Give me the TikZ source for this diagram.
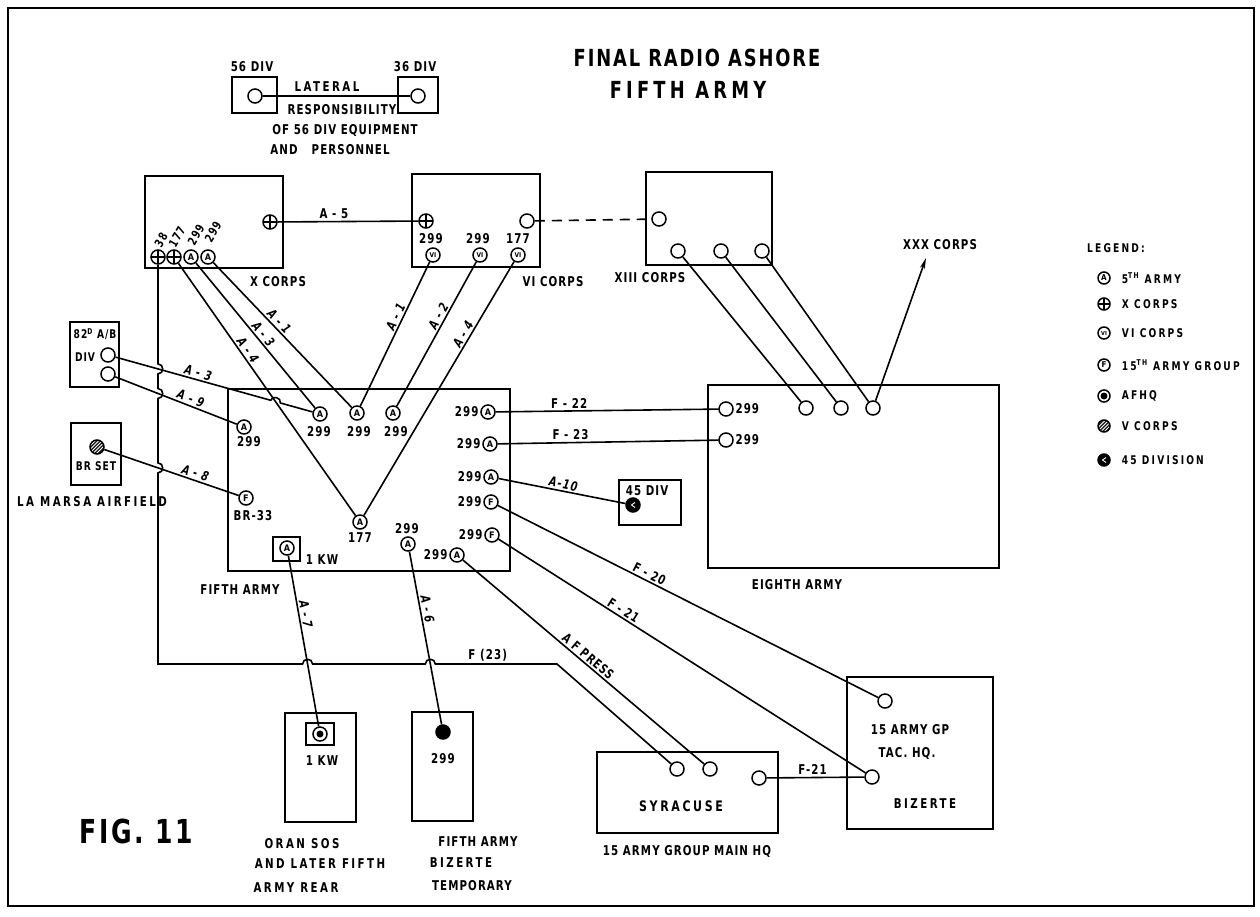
\documentclass[tikz,border=0pt]{standalone}
\usepackage{fontspec}
\setmainfont{DejaVu Sans}
\newfontfamily\labfam[FakeStretch=0.76,LetterSpace=8]{DejaVu Sans}
\newfontfamily\wlabfam[FakeStretch=0.76,LetterSpace=18]{DejaVu Sans}
\newfontfamily\symfam[FakeStretch=0.9]{DejaVu Sans}
\usetikzlibrary{calc,intersections,fit,arrows.meta}
\begin{document}
\begin{tikzpicture}[x=1pt,y=-1pt,line width=1.6pt,
  lab/.style={font=\labfam\bfseries\fontsize{13.5}{15}\selectfont, inner sep=1pt},
  slab/.style={font=\labfam\bfseries\fontsize{12}{13}\selectfont, inner sep=0.5pt},
  wlab/.style={font=\wlabfam\bfseries\fontsize{13.5}{15}\selectfont, inner sep=1pt},
  leg/.style={font=\wlabfam\bfseries\fontsize{12}{14}\selectfont, inner sep=1pt, anchor=west},
  llab/.style={font=\labfam\bfseries\itshape\fontsize{13}{15}\selectfont, inner sep=1.5pt, sloped, above},
  flab/.style={font=\labfam\bfseries\fontsize{13}{15}\selectfont, inner sep=1.5pt, sloped, above},
  ttl/.style={font=\labfam\bfseries\fontsize{23.5}{26}\selectfont},
  ttlw/.style={font=\wlabfam\bfseries\fontsize{23.5}{26}\selectfont},
  box/.style={draw, line width=1.7pt, inner sep=0pt},
  port/.style={circle, draw, line width=1.5pt, fill=white, minimum size=14pt, inner sep=0pt,
    font=\symfam\bfseries\fontsize{9}{9}\selectfont},
  viport/.style={port, font=\symfam\bfseries\fontsize{6.5}{6.5}\selectfont},
  xport/.style={port, path picture={\draw[line width=1.4pt]
    (path picture bounding box.north) -- (path picture bounding box.south)
    (path picture bounding box.west) -- (path picture bounding box.east);}},
  hport/.style={port, fill=black!90, path picture={\foreach \k in {-17,-13.5,...,0}
    {\draw[white, line width=0.9pt] ([xshift=\k pt, yshift=-9pt]path picture bounding box.center) -- ++(18pt,18pt);}}},
  dport/.style={port, fill=black, path picture={\draw[white, line width=0.9pt]
    ([xshift=2pt, yshift=2.5pt]path picture bounding box.center) -- ++(-3.5pt,-2.5pt) -- ++(3.5pt,-2.5pt);}},
  afport/.style={port, path picture={\fill[black] (path picture bounding box.center) circle[radius=3.5pt];}},
  bport/.style={port, fill=black},
  hop/.style={looseness=1.6}
]
\useasboundingbox (0,0) rectangle (1260,916);
\draw[line width=2.6pt] (8,8) rectangle (1254,906);

% title
\node[ttl] (t1) at (697,58) {FINAL RADIO ASHORE};
\node[ttlw] (t2) at (688,90) {FIFTH ARMY};
\node[font=\labfam\bfseries\fontsize{33}{36}\selectfont] (fig) at (136,831) {FIG. 11};

% top-left group
\node[lab] (l56) at (252,67) {56 DIV};
\node[box, fit={(232,77) (277,113)}] (b56) {};
\node[port] (c56) at (255,96) {};
\node[lab] (l36) at (415,67) {36 DIV};
\node[box, fit={(398,77) (438,113)}] (b36) {};
\node[port] (c36) at (418,96) {};
\draw (c56) -- (c36);
\node[wlab] (tlat) at (327,87) {LATERAL};
\node[lab] (tresp) at (342,110) {RESPONSIBILITY};
\node[lab] (tof) at (345,130) {OF 56 DIV EQUIPMENT};
\node[lab] (tand) at (330,150) {AND\hspace{14pt}PERSONNEL};

% X CORPS
\node[box, fit={(145,176) (283,268)}] (xbox) {};
\node[xport] (xa5) at (270,222) {};
\node[xport] (x38) at (158,257) {};
\node[xport] (x177) at (174,257) {};
\node[port] (xa1) at (191,257) {A};
\node[port] (xa2) at (208,257) {A};
\node[slab, rotate=60] (n38) at (161,240) {38};
\node[slab, rotate=60] (n177) at (177,237) {177};
\node[slab, rotate=60] (n299a) at (196,235) {299};
\node[slab, rotate=60] (n299b) at (213,232) {299};
\node[lab] (txc) at (278,282) {X CORPS};

% VI CORPS
\node[box, fit={(412,174) (540,267)}] (vbox) {};
\node[xport] (va5) at (426,221) {};
\node[port] (vo) at (527,221) {};
\node[viport] (vi1) at (433,255) {VI};
\node[viport] (vi2) at (480,255) {VI};
\node[viport] (vi3) at (518,255) {VI};
\node[lab] (nv1) at (431,239) {299};
\node[lab] (nv2) at (478,239) {299};
\node[lab] (nv3) at (518,239) {177};
\node[lab] (tvc) at (553,282) {VI CORPS};

% XIII CORPS
\node[box, fit={(646,172) (772,265)}] (xiiibox) {};
\node[port] (x13c) at (659,219) {};
\node[port] (x13a) at (678,251) {};
\node[port] (x13b) at (721,251) {};
\node[port] (x13d) at (762,251) {};
\node[lab] (txiii) at (650,278) {XIII CORPS};

% EIGHTH ARMY
\node[box, fit={(708,385) (999,568)}] (ebox) {};
\node[port, label={[lab]right:299}] (e1) at (726,409) {};
\node[port, label={[lab]right:299}] (e2) at (726,440) {};
\node[port] (e3) at (806,408) {};
\node[port] (e4) at (841,408) {};
\node[port] (e5) at (873,408) {};
\node[lab] (teighth) at (797,585) {EIGHTH ARMY};
\coordinate (xxx) at (926,258);
\node[lab] (txxx) at (940,245) {XXX CORPS};

% LEGEND
\node[leg, anchor=center] (tleg) at (1116,248) {LEGEND:};
\node[port, minimum size=12pt, font=\symfam\bfseries\fontsize{8}{8}\selectfont] (lg1) at (1104,278) {A};
\node[leg] (lt1) at (1120,278) {5\textsuperscript{TH} ARMY};
\node[xport, minimum size=12pt] (lg2) at (1104,304) {};
\node[leg] (lt2) at (1120,304) {X CORPS};
\node[viport, minimum size=12pt, font=\symfam\bfseries\fontsize{5.5}{5.5}\selectfont] (lg3) at (1104,333) {VI};
\node[leg] (lt3) at (1120,333) {VI CORPS};
\node[port, minimum size=12pt, font=\symfam\bfseries\fontsize{8}{8}\selectfont] (lg4) at (1104,365) {F};
\node[leg] (lt4) at (1120,365) {15\textsuperscript{TH} ARMY GROUP};
\node[afport, minimum size=12pt] (lg5) at (1104,396) {};
\node[leg] (lt5) at (1120,396) {AFHQ};
\node[hport, minimum size=12pt] (lg6) at (1104,426) {};
\node[leg] (lt6) at (1120,426) {V CORPS};
\node[dport, minimum size=12pt] (lg7) at (1104,460) {};
\node[leg] (lt7) at (1120,460) {45 DIVISION};

% 82 A/B DIV
\node[box, fit={(70,322) (119,387)}] (divbox) {};
\node[slab] (tdiv1) at (95,334) {82\textsuperscript{D} A/B};
\node[slab] (tdiv2) at (85,357) {DIV};
\node[port] (d1) at (108,355) {};
\node[port] (d2) at (108,374) {};

% BR SET
\node[box, fit={(71,423) (121,485)}] (brbox) {};
\node[hport] (hs) at (97,447) {};
\node[slab] (tbr) at (96,466) {BR SET};
\node[wlab] (tmarsa) at (92,502) {LA MARSA AIRFIELD};

% FIFTH ARMY
\node[box, fit={(228,389) (510,571)}] (fbox) {};
\node[port] (fa1) at (320,414) {A};
\node[lab] (nfa1) at (319,432) {299};
\node[port] (fa2) at (357,413) {A};
\node[lab] (nfa2) at (359,432) {299};
\node[port] (fa3) at (393,413) {A};
\node[lab] (nfa3) at (396,432) {299};
\node[port] (fa4) at (244,427) {A};
\node[lab] (nfa4) at (249,442) {299};
\node[port] (ff1) at (246,498) {F};
\node[lab] (nff1) at (253,516) {BR-33};
\node[box, fit={(273,537) (300,561)}] (kwbox) {};
\node[port] (fa5) at (287,548) {A};
\node[lab] (nkw) at (322,560) {1 KW};
\node[port] (fa6) at (360,522) {A};
\node[lab] (nfa6) at (360,538) {177};
\node[port] (fa7) at (408,544) {A};
\node[lab] (nfa7) at (407,529) {299};
\node[port, label={[lab]left:299}] (fa8) at (457,555) {A};
\node[port, label={[lab]left:299}] (r1) at (488,412) {A};
\node[port, label={[lab]left:299}] (r2) at (490,444) {A};
\node[port, label={[lab]left:299}] (r3) at (491,477) {A};
\node[port, label={[lab]left:299}] (r4) at (491,502) {F};
\node[port, label={[lab]left:299}] (r5) at (492,535) {F};
\node[lab] (tfifth) at (240,590) {FIFTH ARMY};

% 45 DIV
\node[box, fit={(619,480) (681,525)}] (b45) {};
\node[lab] (t45) at (647,491) {45 DIV};
\node[dport] (d45) at (633,505) {};

% ORAN
\node[box, fit={(285,713) (356,822)}] (oranbox) {};
\node[box, fit={(306,723) (334,745)}] (oraninner) {};
\node[afport] (afo) at (320,734) {};
\node[lab] (toran1) at (322,761) {1 KW};
\node[wlab] (toran2) at (302,844) {ORAN SOS};
\node[wlab] (toran3) at (320,864) {AND LATER FIFTH};
\node[wlab] (toran4) at (296,888) {ARMY REAR};

% FIFTH ARMY BIZERTE TEMPORARY
\node[box, fit={(412,712) (473,821)}] (fbzbox) {};
\node[bport] (fbz) at (443,732) {};
\node[lab] (tfbz1) at (443,759) {299};
\node[lab] (tfbz2) at (478,842) {FIFTH ARMY};
\node[wlab] (tfbz3) at (461,863) {BIZERTE};
\node[lab] (tfbz4) at (472,886) {TEMPORARY};

% SYRACUSE
\node[box, fit={(597,752) (778,833)}] (syrbox) {};
\node[port] (s1) at (677,769) {};
\node[port] (s2) at (710,769) {};
\node[port] (s3) at (759,778) {};
\node[wlab, font=\wlabfam\bfseries\fontsize{14.5}{16}\selectfont] (tsyr) at (681,806) {SYRACUSE};
\node[lab] (tsyr2) at (687,851) {15 ARMY GROUP MAIN HQ};

% BIZERTE
\node[box, fit={(847,677) (993,829)}] (bizbox) {};
\node[port] (b1) at (885,701) {};
\node[lab] (tbiz1) at (910,730) {15 ARMY GP};
\node[lab] (tbiz2) at (907,753) {TAC. HQ.};
\node[port] (b2) at (872,777) {};
\node[wlab] (tbiz3) at (925,804) {BIZERTE};

% connectors
\draw (xa5) -- node[lab, above=1pt, pos=0.4] {A - 5} (va5);
\draw[dash pattern=on 10pt off 7pt] (vo) -- (x13c);
\draw (xa2) -- node[llab, pos=0.44] {A - 1} (fa2);
\draw (xa1) -- node[llab, pos=0.52] {A - 3} (fa1);
\draw[name path=pa4x] (x177) -- node[llab, pos=0.36] {A - 4} (fa6);
\draw (vi1) -- node[llab, pos=0.4] {A - 1} (fa2);
\draw (vi2) -- node[llab, pos=0.4] {A - 2} (fa3);
\draw (vi3) -- node[llab, pos=0.3] {A - 4} (fa6);
\draw (x13a) -- (e3);
\draw (x13b) -- (e4);
\draw (x13d) -- (e5);
\draw[-{Stealth[length=11pt,width=5pt]}] (e5) -- (xxx);

\path[name path=pa3d] (d1) -- (fa1);
\path[name intersections={of=pa3d and pa4x, by=h6}];
\draw (d1) -- node[llab, pos=0.52] {A - 3} ($(h6)!5pt!(d1)$)
  to[bend left=90, looseness=1.4] ($(h6)!5pt!(fa1)$) -- (fa1);
\draw[name path=pa9] (d2) -- node[llab, pos=0.6] {A - 9} (fa4);
\draw[name path=pa8] (hs) -- node[llab, pos=0.66] {A - 8} (ff1);

\draw (r1) -- node[lab, above=1pt, pos=0.33] {F - 22} (e1);
\draw (r2) -- node[lab, above=1pt, pos=0.33] {F - 23} (e2);
\draw (r3) -- node[llab, pos=0.5] {A-10} (d45);
\draw (r4) -- node[flab, pos=0.39] {F - 20} (b1);
\draw (r5) -- node[flab, pos=0.33] {F - 21} (b2);
\draw (fa8) -- node[flab, pos=0.5] {A F PRESS} (s2);
\draw[name path=pa7] (fa5) -- node[llab, pos=0.35] {A - 7} (afo);
\draw[name path=pa6] (fa7) -- node[llab, pos=0.34] {A - 6} (fbz);
\draw (s3) -- node[lab, above=1pt, pos=0.47] {F-21} (b2);

% F (23) with hops
\coordinate (f23c) at (158,664);
\coordinate (f23e) at (557,664);
\path[name path=f23v] (x38.center) -- (f23c);
\path[name path=f23h] (f23c) -- (f23e);
\path[name intersections={of=f23v and pa3d, by=h1}];
\path[name intersections={of=f23v and pa9, by=h2}];
\path[name intersections={of=f23v and pa8, by=h3}];
\path[name intersections={of=f23h and pa7, by=h4}];
\path[name intersections={of=f23h and pa6, by=h5}];
\draw (x38.south) -- ($(h1)+(0,-5)$) to[out=0,in=0,hop] ($(h1)+(0,5)$)
  -- ($(h2)+(0,-5)$) to[out=0,in=0,hop] ($(h2)+(0,5)$)
  -- ($(h3)+(0,-5)$) to[out=0,in=0,hop] ($(h3)+(0,5)$)
  -- (f23c) -- ($(h4)+(-5,0)$) to[out=90,in=90,hop] ($(h4)+(5,0)$)
  -- ($(h5)+(-5,0)$) to[out=90,in=90,hop] ($(h5)+(5,0)$)
  -- node[lab, above=1pt, pos=0.43] {F (23)} (f23e) -- (s1);
\end{tikzpicture}
\end{document}
